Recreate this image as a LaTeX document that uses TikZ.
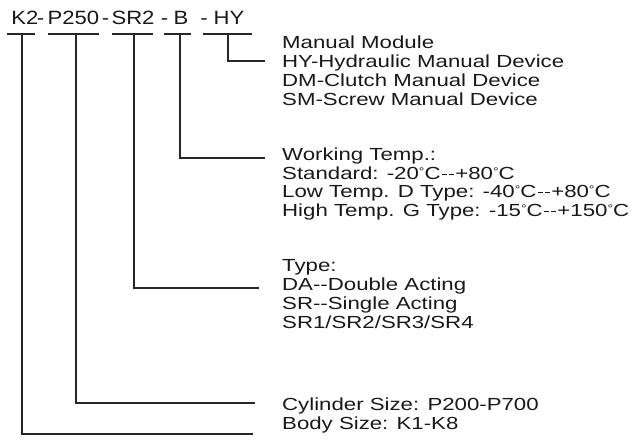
\documentclass[tikz,border=0pt]{standalone}
\usepackage{fontspec}
\setmainfont[FakeStretch=1.27]{Liberation Sans}
\newfontfamily\titlefont[FakeStretch=1.15]{Liberation Sans}
\newcommand\dgC{{\fontsize{11}{11}\selectfont\raisebox{4pt}{°}}C}
\newcommand\ldash{\makebox[7.4pt]{\rule[4.2pt]{5.2pt}{1.25pt}}}
\begin{document}
\begin{tikzpicture}[x=1pt,y=-1pt,
  lbl/.style={anchor=base west,inner sep=0pt,text=black!90,font=\fontsize{17.5}{19}\selectfont},
  ttl/.style={anchor=base,inner sep=0pt,text=black!90,font=\titlefont\fontsize{19.2}{22}\selectfont},
  wire/.style={draw=black!85,line width=1.1pt}]
\useasboundingbox (0,0) rectangle (635,440);
% title parts
\node[ttl] (tK) at (25,24) {K2};
\node[ttl] (d1) at (40.5,24) {-};
\node[ttl] (tP) at (73.5,24) {P250};
\node[ttl] (d2) at (105.5,24) {-};
\node[ttl] (tS) at (133,24) {SR2};
\node[ttl] (d3) at (164.5,24) {-};
\node[ttl] (tB) at (181,24) {B};
\node[ttl] (d4) at (204,24) {-};
\node[ttl] (tH) at (229,24) {HY};
% underlines
\coordinate (uK1) at (7,34);   \coordinate (uK2) at (35,34);
\coordinate (uP1) at (48,34);  \coordinate (uP2) at (99,34);
\coordinate (uS1) at (112,34); \coordinate (uS2) at (153,34);
\coordinate (uB1) at (164,34); \coordinate (uB2) at (191,34);
\coordinate (uH1) at (203,34); \coordinate (uH2) at (252,34);
\draw[wire] (uK1) -- (uK2);
\draw[wire] (uP1) -- (uP2);
\draw[wire] (uS1) -- (uS2);
\draw[wire] (uB1) -- (uB2);
\draw[wire] (uH1) -- (uH2);
% labels
\node[lbl] (m1) at (282,48.5) {Manual Module};
\node[lbl] (m2) at (282,67.5) {HY-Hydraulic Manual Device};
\node[lbl] (m3) at (282,86.5) {DM-Clutch Manual Device};
\node[lbl] (m4) at (282,105.5) {SM-Screw Manual Device};
\node[lbl] (w1) at (282,160.5) {Working Temp.:};
\node[lbl] (w2) at (282,179) {Standard: -20\dgC\ldash\ldash+80\dgC};
\node[lbl] (w3) at (282,197.5) {Low Temp. D Type: -40\dgC\ldash\ldash+80\dgC};
\node[lbl] (w4) at (282,216) {High Temp. G Type: -15\dgC\ldash\ldash+150\dgC};
\node[lbl] (y1) at (282,271.5) {Type:};
\node[lbl] (y2) at (282,290.5) {DA-{}-Double Acting};
\node[lbl] (y3) at (282,309.5) {SR-{}-Single Acting};
\node[lbl] (y4) at (282,328.5) {SR1/SR2/SR3/SR4};
\node[lbl] (c1) at (282,410) {Cylinder Size: P200-P700};
\node[lbl] (c2) at (282,429) {Body Size: K1-K8};
% connectors
\coordinate (vH) at (228,34); \coordinate (eH) at (265,61);
\coordinate (vB) at (180,34); \coordinate (eB) at (265,158);
\coordinate (vS) at (134,34); \coordinate (eS) at (259,288);
\coordinate (vP) at (76,34);  \coordinate (eP) at (255,403);
\coordinate (vK) at (22,34);  \coordinate (eK) at (253,434);
\draw[wire] (vH) |- (eH);
\draw[wire] (vB) |- (eB);
\draw[wire] (vS) |- (eS);
\draw[wire] (vP) |- (eP);
\draw[wire] (vK) |- (eK);
\end{tikzpicture}
\end{document}
